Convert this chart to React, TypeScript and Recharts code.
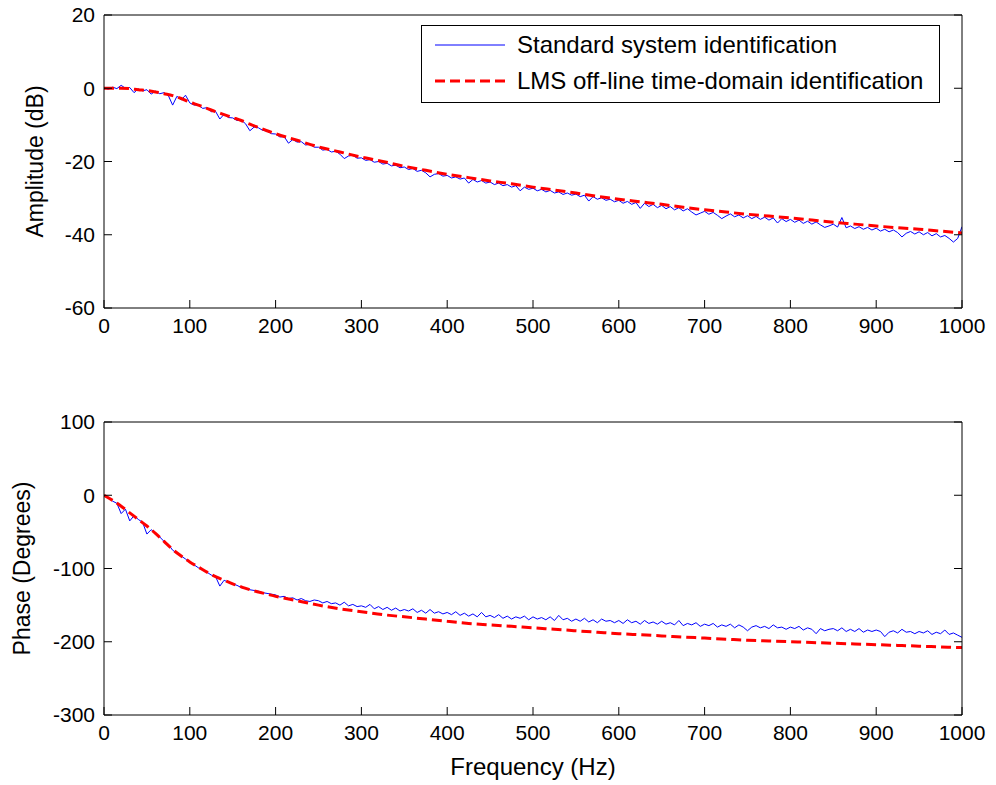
import React from 'react';
import { LineChart, Line, XAxis, YAxis, Legend } from 'recharts';

const FONT = '"Liberation Sans", Arial, Helvetica, sans-serif';

const FREQ_TICKS = [0, 100, 200, 300, 400, 500, 600, 700, 800, 900, 1000];
const AMP_TICKS = [-60, -40, -20, 0, 20];
const PHASE_TICKS = [-300, -200, -100, 0, 100];

const NAME_STANDARD = 'Standard system identification';
const NAME_LMS = 'LMS off-line time-domain identification';
const LEGEND_ORDER = [NAME_STANDARD, NAME_LMS];

// standard identification: one reading every 5 Hz, 0..1000 Hz
const STANDARD_STEP_HZ = 5;

const AMP_STANDARD = [
  0.1, -0.3, 0.3, -0.1, 0.8, 0.0, 0.2, -1.2, -0.2, -0.7,
  -0.4, -1.6, -0.8, -1.5, -1.2, -2.0, -4.6, -2.2, -3.2, -1.9,
  -4.0, -4.6, -4.5, -5.5, -5.3, -6.4, -6.3, -8.4, -7.1, -8.0,
  -8.1, -8.8, -8.7, -9.7, -11.6, -10.6, -10.8, -11.5, -11.7, -12.4,
  -12.5, -13.3, -13.2, -15.0, -14.0, -14.7, -14.6, -15.5, -15.3, -16.1,
  -16.1, -16.9, -16.7, -17.4, -17.2, -18.0, -19.2, -18.5, -18.3, -19.1,
  -19.0, -19.7, -19.5, -20.2, -20.0, -20.7, -20.5, -21.2, -21.0, -21.7,
  -21.5, -22.2, -21.9, -22.7, -22.4, -23.1, -24.2, -23.5, -23.3, -24.0,
  -23.8, -24.5, -24.2, -24.8, -24.5, -25.9, -24.9, -25.6, -25.2, -25.9,
  -25.6, -26.3, -25.9, -26.6, -26.3, -27.0, -26.6, -28.0, -27.0, -27.6,
  -27.3, -28.0, -27.6, -28.3, -27.9, -28.6, -28.3, -29.0, -28.6, -29.2,
  -28.9, -29.6, -29.2, -30.8, -29.6, -30.3, -29.9, -30.6, -30.3, -31.0,
  -30.6, -31.4, -30.9, -31.7, -31.2, -32.8, -31.4, -32.3, -31.7, -32.6,
  -32.0, -32.9, -32.3, -33.2, -32.6, -33.5, -32.9, -33.8, -34.6, -34.1,
  -33.6, -34.4, -33.9, -34.7, -35.6, -34.9, -34.3, -35.1, -34.6, -35.4,
  -34.8, -35.6, -35.0, -35.8, -35.2, -36.0, -35.4, -36.8, -35.6, -36.4,
  -35.8, -36.6, -36.0, -36.9, -36.3, -37.1, -36.5, -37.3, -38.0, -37.6,
  -37.1, -37.9, -35.3, -38.1, -37.6, -38.3, -37.8, -38.5, -38.0, -38.7,
  -38.2, -39.0, -38.5, -39.2, -38.7, -39.4, -40.6, -39.6, -39.1, -39.8,
  -39.2, -40.0, -39.4, -40.3, -39.7, -40.6, -40.2, -41.0, -42.0, -41.0,
  -37.8,
];

const PHASE_STANDARD = [
  0, -3, -8, -11, -25, -19, -35, -28, -33, -37,
  -53, -47, -52, -57, -63, -67, -75, -79, -83, -87,
  -92, -95, -99, -101, -105, -109, -111, -124, -116, -119,
  -121, -123, -126, -127, -129, -130, -131, -133, -134, -135,
  -136, -139, -138, -141, -140, -143, -141, -144, -145, -143,
  -144, -147, -145, -148, -147, -150, -146, -151, -149, -152,
  -151, -153, -149, -155, -152, -156, -153, -157, -154, -158,
  -156, -158, -155, -160, -157, -161, -156, -161, -159, -162,
  -160, -163, -159, -164, -161, -165, -162, -166, -160, -166,
  -164, -167, -163, -168, -165, -169, -166, -168, -165, -170,
  -166, -169, -167, -170, -166, -171, -164, -170, -168, -172,
  -169, -172, -168, -173, -170, -174, -169, -172, -171, -174,
  -171, -175, -170, -174, -172, -176, -171, -175, -173, -176,
  -172, -176, -174, -177, -171, -178, -175, -177, -174, -179,
  -176, -178, -175, -180, -177, -179, -176, -181, -177, -180,
  -185, -180, -178, -181, -179, -182, -177, -181, -180, -183,
  -180, -182, -179, -184, -181, -183, -189, -182, -185, -183,
  -182, -185, -181, -186, -183, -186, -182, -187, -184, -186,
  -184, -186, -193, -187, -185, -188, -183, -187, -186, -189,
  -186, -188, -185, -190, -187, -189, -184, -190, -188, -191,
  -194,
];

// LMS identification (smooth)
const LMS_FREQ = [
  0, 10, 20, 30, 40, 50, 60, 70, 80, 90, 100, 110, 120, 130, 140, 150, 160, 170, 180, 190, 200,
  225, 250, 275, 300, 325, 350, 375, 400, 425, 450, 475, 500, 525, 550, 575, 600,
  625, 650, 675, 700, 725, 750, 775, 800, 825, 850, 875, 900, 925, 950, 975, 1000,
];

const AMP_LMS = [
  0, 0, 0, -0.1, -0.4, -0.6, -1.0, -1.5, -2.0, -2.8, -3.8, -4.6, -5.5, -6.4, -7.2, -8.0, -8.8, -9.8, -10.7, -11.6, -12.4,
  -14.2, -16.0, -17.4, -18.8, -20.0, -21.3, -22.4, -23.5, -24.4, -25.3, -26.1, -27.0, -27.8, -28.6, -29.5, -30.3,
  -31.0, -31.7, -32.5, -33.2, -33.8, -34.4, -34.9, -35.4, -36.0, -36.6, -37.1, -37.6, -38.1, -38.5, -39.0, -39.5,
];

const PHASE_LMS = [
  0, -7, -15, -24, -33, -42, -52, -63, -74, -83, -91, -98, -105, -111, -116, -121, -125, -129, -132, -135, -138,
  -144, -150, -155, -159, -163, -166, -169, -172, -175, -177, -179, -181, -183, -185, -187, -189,
  -190.5, -192, -193.5, -195, -196.5, -198, -199, -200, -201, -202, -203, -204, -205, -206, -207, -208,
];

const standardPoints = (vals: number[]) => vals.map((v, i) => ({ f: i * STANDARD_STEP_HZ, v }));
const lmsPoints = (vals: number[]) => vals.map((v, i) => ({ f: LMS_FREQ[i], v }));

const STYLE_STANDARD = { stroke: '#0000ff', width: 1, dash: undefined as string | undefined };
const STYLE_LMS = { stroke: '#ff0000', width: 3, dash: '10 5' };
const styleFor = (name: string) => (name === NAME_LMS ? STYLE_LMS : STYLE_STANDARD);

const renderLegend = (props: any) => {
  const items = [...(props.payload || [])].sort(
    (a: any, b: any) => LEGEND_ORDER.indexOf(a.value) - LEGEND_ORDER.indexOf(b.value)
  );
  return (
    <div
      style={{
        width: 517,
        height: 75,
        paddingTop: 1,
        border: '1px solid #000',
        background: '#fff',
        fontFamily: FONT,
        fontSize: 24,
        color: '#000',
        whiteSpace: 'nowrap',
      }}
    >
      {items.map((e: any) => {
        const s = styleFor(e.value);
        return (
          <div key={e.value} style={{ display: 'flex', alignItems: 'center', height: 36 }}>
            <svg width={95} height={36} style={{ flex: 'none' }}>
              <line x1={13} x2={83} y1={18} y2={18} stroke={s.stroke} strokeWidth={s.width} strokeDasharray={s.dash} />
            </svg>
            <span>{e.value}</span>
          </div>
        );
      })}
    </div>
  );
};

const yTitle = (text: string, baseline: number) => (props: any) => {
  const vb = props.viewBox || { x: 0, y: 0, height: 0 };
  const x = vb.x + baseline;
  const cy = vb.y + vb.height / 2;
  return (
    <text
      x={x}
      y={cy}
      transform={`rotate(-90 ${x} ${cy})`}
      textAnchor="middle"
      fontSize={23}
      fontFamily={FONT}
      fill="#000"
    >
      {text}
    </text>
  );
};

interface PanelProps {
  top: number;
  height: number;
  marginTop: number;
  xHeight: number;
  domain: [number, number];
  yTicks: number[];
  standard: { f: number; v: number }[];
  lms: { f: number; v: number }[];
  yLabel: string;
  yLabelBaseline: number;
  showLegend?: boolean;
  xLabel?: string;
}

function Panel(p: PanelProps) {
  const axisStroke = { stroke: '#000', strokeWidth: 1 };
  const tickFont = { fill: '#000', fontSize: 21 };
  return (
    <div style={{ position: 'absolute', left: 0, top: p.top }}>
      <LineChart
        width={996}
        height={p.height}
        margin={{ top: p.marginTop, right: 33, bottom: 0, left: 0 }}
        style={{ fontFamily: FONT }}
      >
        <XAxis
          xAxisId="b"
          dataKey="f"
          type="number"
          domain={[0, 1000]}
          allowDataOverflow
          ticks={FREQ_TICKS}
          height={p.xHeight}
          tickSize={-8}
          tickMargin={18}
          tick={tickFont}
          tickLine={axisStroke}
          axisLine={axisStroke}
          label={
            p.xLabel
              ? { value: p.xLabel, position: 'insideBottom', offset: 10, fill: '#000', fontSize: 24 }
              : undefined
          }
        />
        <XAxis
          xAxisId="t"
          orientation="top"
          type="number"
          domain={[0, 1000]}
          allowDataOverflow
          ticks={FREQ_TICKS}
          height={1}
          tickSize={-8}
          tick={() => <g />}
          tickLine={axisStroke}
          axisLine={axisStroke}
        />
        <YAxis
          yAxisId="l"
          type="number"
          domain={p.domain}
          allowDataOverflow
          ticks={p.yTicks}
          width={104}
          tickSize={-8}
          tickMargin={17}
          tick={tickFont}
          tickLine={axisStroke}
          axisLine={axisStroke}
          label={{ content: yTitle(p.yLabel, p.yLabelBaseline) }}
        />
        <YAxis
          yAxisId="r"
          orientation="right"
          type="number"
          domain={p.domain}
          allowDataOverflow
          ticks={p.yTicks}
          width={1}
          tickSize={-8}
          tick={() => <g />}
          tickLine={axisStroke}
          axisLine={axisStroke}
        />
        {p.showLegend && (
          <Legend
            layout="vertical"
            align="center"
            verticalAlign="middle"
            wrapperStyle={{ top: 25, left: 421, width: 'auto' }}
            content={renderLegend}
          />
        )}
        <Line
          xAxisId="b"
          yAxisId="l"
          data={p.standard}
          dataKey="v"
          name={NAME_STANDARD}
          type="linear"
          stroke={STYLE_STANDARD.stroke}
          strokeWidth={STYLE_STANDARD.width}
          dot={false}
          activeDot={false}
          isAnimationActive={false}
        />
        <Line
          xAxisId="b"
          yAxisId="l"
          data={p.lms}
          dataKey="v"
          name={NAME_LMS}
          type="monotone"
          stroke={STYLE_LMS.stroke}
          strokeWidth={STYLE_LMS.width}
          strokeDasharray={STYLE_LMS.dash}
          dot={false}
          activeDot={false}
          isAnimationActive={false}
        />
      </LineChart>
    </div>
  );
}

export default function App() {
  return (
    <div
      style={{
        position: 'absolute',
        left: 0,
        top: 0,
        width: 996,
        height: 785,
        background: '#fff',
        fontFamily: FONT,
      }}
    >
      <Panel
        top={0}
        height={345}
        marginTop={14}
        xHeight={37}
        domain={[-60, 20]}
        yTicks={AMP_TICKS}
        standard={standardPoints(AMP_STANDARD)}
        lms={lmsPoints(AMP_LMS)}
        yLabel="Amplitude (dB)"
        yLabelBaseline={43}
        showLegend
      />
      <Panel
        top={392}
        height={393}
        marginTop={29}
        xHeight={70}
        domain={[-300, 100]}
        yTicks={PHASE_TICKS}
        standard={standardPoints(PHASE_STANDARD)}
        lms={lmsPoints(PHASE_LMS)}
        yLabel="Phase (Degrees)"
        yLabelBaseline={30}
        xLabel="Frequency (Hz)"
      />
    </div>
  );
}
